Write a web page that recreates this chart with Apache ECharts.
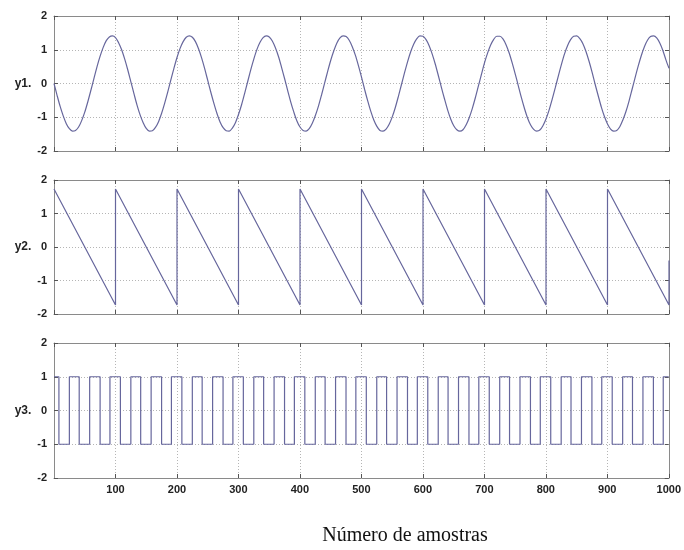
<!DOCTYPE html>
<html><head><meta charset="utf-8">
<script src="https://cdn.jsdelivr.net/npm/echarts@6/dist/echarts.min.js"></script>
<style>html,body{margin:0;padding:0;background:#fff}#c{width:684px;height:550px}</style>
</head><body><div id="c"></div>
<script>
// ---- data ----
// y1: sine, read every 5 samples (n = 0,5,...,1000)
var sineStep = 5;
var sineValues = [0,-0.35,-0.68,-0.96,-1.19,-1.34,-1.41,-1.39,-1.29,-1.10,
-0.85,-0.54,-0.20,0.15,0.50,0.81,1.07,1.27,1.38,1.41,
1.36,1.21,1.00,0.72,0.40,0.05,-0.30,-0.64,-0.93,-1.16,
-1.33,-1.41,-1.40,-1.30,-1.13,-0.88,-0.58,-0.25,0.11,0.45,
0.77,1.04,1.24,1.37,1.41,1.37,1.24,1.03,0.76,0.44,
0.09,-0.26,-0.59,-0.89,-1.14,-1.31,-1.40,-1.41,-1.32,-1.16,
-0.92,-0.63,-0.29,0.06,0.41,0.73,1.01,1.22,1.36,1.41,
1.38,1.26,1.06,0.80,0.48,0.14,-0.21,-0.55,-0.85,-1.11,
-1.29,-1.39,-1.41,-1.34,-1.18,-0.95,-0.67,-0.34,0.01,0.36,
0.69,0.97,1.20,1.35,1.41,1.39,1.28,1.09,0.84,0.53,
0.19,-0.17,-0.51,-0.82,-1.08,-1.27,-1.39,-1.41,-1.35,-1.21,
-0.99,-0.71,-0.38,-0.03,0.32,0.65,0.94,1.17,1.33,1.41,
1.40,1.30,1.12,0.87,0.57,0.23,-0.12,-0.46,-0.78,-1.05,
-1.25,-1.37,-1.41,-1.37,-1.23,-1.02,-0.75,-0.43,-0.08,0.27,
0.61,0.90,1.14,1.31,1.40,1.40,1.32,1.15,0.91,0.61,
0.28,-0.07,-0.42,-0.74,-1.02,-1.23,-1.36,-1.41,-1.38,-1.25,
-1.05,-0.79,-0.47,-0.13,0.22,0.56,0.87,1.12,1.30,1.40,
1.41,1.33,1.18,0.95,0.66,0.33,-0.03,-0.37,-0.70,-0.98,
-1.20,-1.35,-1.41,-1.39,-1.28,-1.08,-0.83,-0.52,-0.17,0.18,
0.52,0.83,1.09,1.28,1.39,1.41,1.35,1.20,0.98,0.70,
0.45];
// y2: sawtooth corner points
var sawTimes  = [0,100,100,200,200,300,300,400,400,500,500,600,600,700,700,800,800,900,900,1000,1000];
var sawValues = [1.73,-1.73,1.73,-1.73,1.73,-1.73,1.73,-1.73,1.73,-1.73,1.73,-1.73,1.73,-1.73,1.73,-1.73,1.73,-1.73,1.73,-1.73,-0.4];
// y3: square wave level changes (time, new level)
var sqTimes  = [0,8,25,41,58,75,91,108,125,141,158,175,191,208,225,241,258,275,291,308,325,341,358,375,391,408,425,441,458,475,491,508,525,541,558,575,591,608,625,641,658,675,691,708,725,741,758,775,791,808,825,841,858,875,891,908,925,941,958,975,991,1000];
var sqLevels = [1,-1,1,-1,1,-1,1,-1,1,-1,1,-1,1,-1,1,-1,1,-1,1,-1,1,-1,1,-1,1,-1,1,-1,1,-1,1,-1,1,-1,1,-1,1,-1,1,-1,1,-1,1,-1,1,-1,1,-1,1,-1,1,-1,1,-1,1,-1,1,-1,1,-1,1,1];
var yNames = ['y1.','y2.','y3.'];
var xTitle = 'Número de amostras';

var sineData = sineValues.map(function(v,i){return [i*sineStep, v];});
var sawData = sawTimes.map(function(t,i){return [t, sawValues[i]];});
var sqData = sqTimes.map(function(t,i){return [t, sqLevels[i]];});

var lineColor = '#66669c';
var boxColor = '#8a8a8a';
var grids = [
  {left:54, top:16, width:615, height:135},
  {left:54, top:180, width:615, height:134},
  {left:54, top:343, width:615, height:135}
];
var lblFont = {color:'#222', fontFamily:'Liberation Sans, Arial', fontWeight:'bold', fontSize:11};
var xAxes = [], yAxes = [];
grids.forEach(function(g, i){
  xAxes.push({
    gridIndex:i, type:'value', min:0, max:1000, interval:100, position:'bottom',
    axisLine:{onZero:false, lineStyle:{color:boxColor, width:1}},
    axisTick:{inside:true, length:4, lineStyle:{color:'#555'}},
    axisLabel:Object.assign({show: i===2, showMinLabel:false, margin:6, formatter:function(v){return String(v);}}, lblFont),
    splitLine:{show:true, lineStyle:{type:[1,2], color:'#b5b5b5'}}
  });
  xAxes.push({
    gridIndex:i, type:'value', min:0, max:1000, interval:100, position:'top',
    axisLine:{onZero:false, lineStyle:{color:boxColor, width:1}},
    axisTick:{inside:true, length:4, lineStyle:{color:'#555'}},
    axisLabel:{show:false}, splitLine:{show:false}
  });
  yAxes.push({
    gridIndex:i, type:'value', min:-2, max:2, interval:1, position:'left',
    name: yNames[i], nameLocation:'middle', nameRotate:0, nameGap:22,
    nameTextStyle:{color:'#222', fontFamily:'Liberation Sans, Arial', fontWeight:'bold', fontSize:12, align:'right'},
    axisLine:{onZero:false, lineStyle:{color:boxColor, width:1}},
    axisTick:{inside:true, length:4, lineStyle:{color:'#555'}},
    axisLabel:Object.assign({margin:7}, lblFont),
    splitLine:{show:true, lineStyle:{type:[1,2], color:'#b5b5b5'}}
  });
  yAxes.push({
    gridIndex:i, type:'value', min:-2, max:2, interval:1, position:'right',
    axisLine:{onZero:false, lineStyle:{color:boxColor, width:1}},
    axisTick:{inside:true, length:4, lineStyle:{color:'#555'}},
    axisLabel:{show:false}, splitLine:{show:false}
  });
});

var chart = echarts.init(document.getElementById('c'), null, {renderer:'canvas'});
chart.setOption({
  animation:false,
  backgroundColor:'#ffffff',
  grid: grids,
  xAxis: xAxes,
  yAxis: yAxes,
  graphic:[{type:'text', x:405, y:526, style:{text:xTitle, align:'center', font:'20px "Liberation Serif", "Times New Roman", serif', fill:'#111'}}],
  series:[
    {type:'line', xAxisIndex:0, yAxisIndex:0, data:sineData, smooth:0.3, showSymbol:false, lineStyle:{color:lineColor, width:1.2}},
    {type:'line', xAxisIndex:2, yAxisIndex:2, data:sawData, showSymbol:false, lineStyle:{color:lineColor, width:1.2}},
    {type:'line', xAxisIndex:4, yAxisIndex:4, data:sqData, step:'end', showSymbol:false, lineStyle:{color:lineColor, width:1.2}}
  ]
});
</script></body></html>
